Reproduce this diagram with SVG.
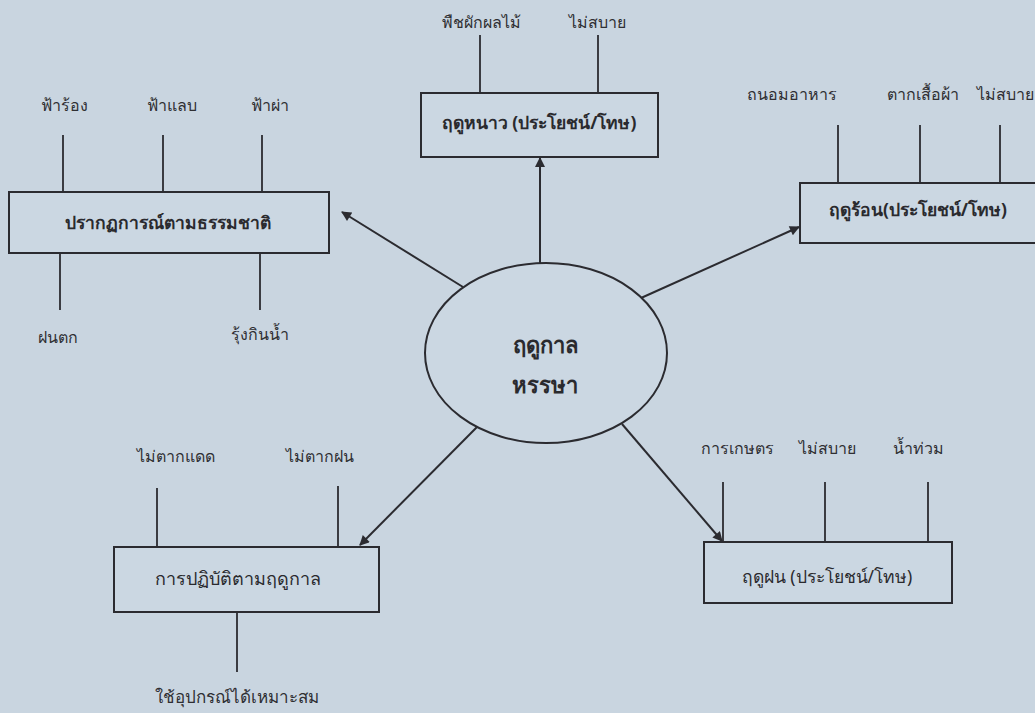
<svg xmlns="http://www.w3.org/2000/svg" width="1035" height="713" viewBox="0 0 1035 713">
  <style>
    .bg { fill: #c9d5e0; }
    .box { fill: #cbd7e2; stroke: #2b2b30; stroke-width: 2; }
    .stem { stroke: #2b2b30; stroke-width: 1.8; fill: none; }
    .conn { stroke: #2b2b30; stroke-width: 2; fill: none; }
    .lbl { font-family: "Noto Sans", "DejaVu Sans", "Liberation Sans", sans-serif; font-size: 16px; fill: #2f2f33; text-anchor: middle; }
    .ttl { font-family: "Noto Sans", "DejaVu Sans", "Liberation Sans", sans-serif; font-size: 17.5px; font-weight: bold; fill: #2a2a2e; text-anchor: middle; }
    .ttn { font-family: "Noto Sans", "DejaVu Sans", "Liberation Sans", sans-serif; font-size: 17.5px; fill: #2a2a2e; text-anchor: middle; }
    .ctr { font-family: "Noto Sans", "DejaVu Sans", "Liberation Sans", sans-serif; font-size: 22px; font-weight: bold; fill: #2a2a2e; text-anchor: middle; }
  </style>
  <defs>
    <marker id="arrow" viewBox="0 0 10 10" refX="9" refY="5" markerWidth="12" markerHeight="10" markerUnits="userSpaceOnUse" orient="auto">
      <path d="M0,0 L10,5 L0,10 z" fill="#2b2b30"/>
    </marker>
  </defs>
  <rect class="bg" x="0" y="0" width="1035" height="713"/>

  <g id="center">
    <ellipse cx="546" cy="353" rx="121" ry="90" fill="#cbd7e2" stroke="#2b2b30" stroke-width="2"/>
    <text class="ctr" x="545" y="353">ฤดูกาล</text>
    <text class="ctr" x="545" y="393">หรรษา</text>
  </g>

  <g id="nature">
    <line class="stem" x1="63" y1="135" x2="63" y2="192"/>
    <line class="stem" x1="163" y1="135" x2="163" y2="192"/>
    <line class="stem" x1="262" y1="135" x2="262" y2="192"/>
    <line class="stem" x1="60" y1="253" x2="60" y2="310"/>
    <line class="stem" x1="260" y1="253" x2="260" y2="310"/>
    <rect class="box" x="9" y="192" width="320" height="61"/>
    <text class="ttl" x="168" y="229">ปรากฏการณ์ตามธรรมชาติ</text>
    <text class="lbl" x="64" y="111">ฟ้าร้อง</text>
    <text class="lbl" x="172" y="111">ฟ้าแลบ</text>
    <text class="lbl" x="270" y="111">ฟ้าผ่า</text>
    <text class="lbl" x="58" y="343">ฝนตก</text>
    <text class="lbl" x="260" y="340">รุ้งกินน้ำ</text>
  </g>

  <g id="winter">
    <line class="stem" x1="480" y1="35" x2="480" y2="93"/>
    <line class="stem" x1="598" y1="35" x2="598" y2="93"/>
    <rect class="box" x="421" y="93" width="237" height="64"/>
    <text class="ttl" x="539" y="129">ฤดูหนาว (ประโยชน์/โทษ)</text>
    <text class="lbl" x="481" y="28">พืชผักผลไม้</text>
    <text class="lbl" x="597" y="28">ไม่สบาย</text>
  </g>

  <g id="summer">
    <line class="stem" x1="838" y1="125" x2="838" y2="183"/>
    <line class="stem" x1="920" y1="125" x2="920" y2="183"/>
    <line class="stem" x1="1000" y1="125" x2="1000" y2="183"/>
    <rect class="box" x="800" y="183" width="250" height="60"/>
    <text class="ttl" x="918" y="216">ฤดูร้อน(ประโยชน์/โทษ)</text>
    <text class="lbl" x="792" y="100">ถนอมอาหาร</text>
    <text class="lbl" x="923" y="100">ตากเสื้อผ้า</text>
    <text class="lbl" x="977" y="100" style="text-anchor:start">ไม่สบาย</text>
  </g>

  <g id="practice">
    <line class="stem" x1="157" y1="488" x2="157" y2="547"/>
    <line class="stem" x1="338" y1="486" x2="338" y2="547"/>
    <line class="stem" x1="237" y1="612" x2="237" y2="672"/>
    <rect class="box" x="114" y="547" width="265" height="65"/>
    <text class="ttn" x="238" y="585" style="font-size:18px">การปฏิบัติตามฤดูกาล</text>
    <text class="lbl" x="176" y="462">ไม่ตากแดด</text>
    <text class="lbl" x="320" y="462">ไม่ตากฝน</text>
    <text class="lbl" x="237" y="703" style="font-size:17px">ใช้อุปกรณ์ได้เหมาะสม</text>
  </g>

  <g id="rainy">
    <line class="stem" x1="723" y1="482" x2="723" y2="542"/>
    <line class="stem" x1="825" y1="482" x2="825" y2="542"/>
    <line class="stem" x1="928" y1="482" x2="928" y2="542"/>
    <rect class="box" x="704" y="542" width="248" height="61"/>
    <text class="ttn" x="827" y="583">ฤดูฝน (ประโยชน์/โทษ)</text>
    <text class="lbl" x="737" y="454">การเกษตร</text>
    <text class="lbl" x="827" y="454">ไม่สบาย</text>
    <text class="lbl" x="918" y="454">น้ำท่วม</text>
  </g>

  <g id="connectors">
    <line class="conn" x1="463" y1="287" x2="342" y2="212" marker-end="url(#arrow)"/>
    <line class="conn" x1="540" y1="263" x2="540" y2="158" marker-end="url(#arrow)"/>
    <line class="conn" x1="641" y1="298" x2="799" y2="227" marker-end="url(#arrow)"/>
    <line class="conn" x1="477" y1="427" x2="360" y2="545" marker-end="url(#arrow)"/>
    <line class="conn" x1="622" y1="424" x2="722" y2="541" marker-end="url(#arrow)"/>
  </g>
</svg>
